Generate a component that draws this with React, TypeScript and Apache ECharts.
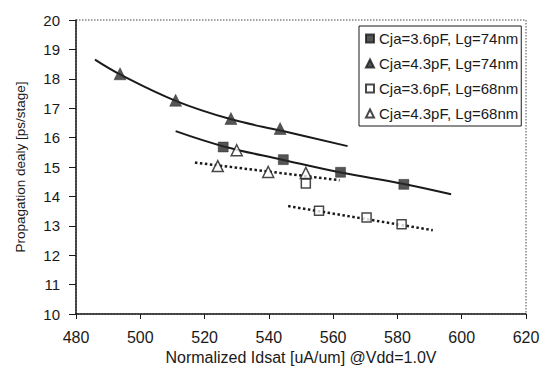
import React, { useEffect, useRef } from "react";
import * as echarts from "echarts";

const xTicks = [480, 500, 520, 540, 560, 580, 600, 620];
const yTicks = [10, 11, 12, 13, 14, 15, 16, 17, 18, 19, 20];

const names = [
  "Cja=3.6pF, Lg=74nm",
  "Cja=4.3pF, Lg=74nm",
  "Cja=3.6pF, Lg=68nm",
  "Cja=4.3pF, Lg=68nm",
];

const sq74: [number, number][] = [
  [525.8, 15.68],
  [544.5, 15.25],
  [562.3, 14.82],
  [582.0, 14.41],
];
const tri74: [number, number][] = [
  [493.7, 18.17],
  [511.0, 17.27],
  [528.2, 16.65],
  [543.5, 16.31],
];
const sq68: [number, number][] = [
  [551.5, 14.44],
  [555.6, 13.51],
  [570.4, 13.28],
  [581.3, 13.05],
];
const tri68: [number, number][] = [
  [524.1, 15.03],
  [530.0, 15.57],
  [539.8, 14.83],
  [551.5, 14.8],
];

// fit lines
const fitTri74: [number, number][] = [
  [485.9, 18.65],
  [494, 18.13],
  [511, 17.25],
  [528, 16.63],
  [544, 16.23],
  [564.5, 15.71],
];
const fitSq74: [number, number][] = [
  [511, 16.22],
  [526, 15.7],
  [544.5, 15.24],
  [562, 14.82],
  [582, 14.42],
  [596.7, 14.07],
];
const fitTri68: [number, number][] = [
  [517, 15.15],
  [562, 14.55],
];
const fitSq68: [number, number][] = [
  [546, 13.67],
  [591, 12.85],
];

const INK = "#1a1a1a";
const FONT = "Liberation Sans, Arial, sans-serif";

export default function App() {
  const ref = useRef<HTMLDivElement>(null);
  useEffect(() => {
    if (!ref.current) return;
    const chart = echarts.init(ref.current, null, { renderer: "svg" });
    const fitLine = (data: [number, number][], dotted: boolean, smooth: boolean) => ({
      type: "line",
      data,
      smooth: smooth ? 0.4 : false,
      showSymbol: false,
      symbol: "none",
      silent: true,
      lineStyle: dotted
        ? { color: INK, width: 2.5, type: [2.5, 2.5] }
        : { color: INK, width: 2 },
      z: 2,
    });
    chart.setOption({
      animation: false,
      backgroundColor: "#fff",
      grid: {
        left: 76,
        top: 20,
        right: 26,
        bottom: 61,
        show: true,
        borderColor: "#444",
        borderWidth: 1,
        borderType: [1.5, 1.5],
      } as any,
      xAxis: {
        type: "value",
        min: 480,
        max: 620,
        interval: 20,
        name: "Normalized Idsat [uA/um] @Vdd=1.0V",
        nameLocation: "middle",
        nameGap: 35,
        nameTextStyle: { color: INK, fontSize: 16, fontFamily: FONT },
        axisLine: { show: true, lineStyle: { color: INK, width: 1.5 } },
        axisTick: { show: true, length: 5, lineStyle: { color: INK } },
        axisLabel: {
          color: INK,
          fontSize: 16,
          fontFamily: FONT,
          margin: 15,
          formatter: (v: number) => (xTicks.includes(v) ? String(v) : ""),
        },
        splitLine: { show: false },
      },
      yAxis: {
        type: "value",
        min: 10,
        max: 20,
        interval: 1,
        name: "Propagation dealy [ps/stage]",
        nameLocation: "middle",
        nameGap: 49,
        nameTextStyle: { color: INK, fontSize: 13.5, fontFamily: FONT },
        axisLine: { show: true, lineStyle: { color: INK, width: 1.5 } },
        axisTick: { show: true, length: 7, lineStyle: { color: INK } },
        axisLabel: {
          color: INK,
          fontSize: 15,
          fontFamily: FONT,
          margin: 16,
          formatter: (v: number) => (yTicks.includes(v) ? String(v) : ""),
        },
        splitLine: { show: false },
      },
      legend: {
        data: [
          { name: names[0], icon: "rect" },
          { name: names[1], icon: "triangle" },
          { name: names[2], icon: "rect" },
          { name: names[3], icon: "triangle" },
        ],
        orient: "vertical",
        left: 359,
        top: 26,
        padding: [5, 3, 5, 6],
        itemGap: 10,
        itemWidth: 8,
        itemHeight: 8,
        backgroundColor: "#fff",
        borderColor: INK,
        borderWidth: 1,
        textStyle: { color: INK, fontSize: 15, fontFamily: FONT },
      },
      series: [
        fitLine(fitTri74, false, true),
        fitLine(fitSq74, false, true),
        fitLine(fitTri68, true, false),
        fitLine(fitSq68, true, false),
        {
          name: names[0],
          type: "scatter",
          data: sq74,
          symbol: "rect",
          symbolSize: 10,
          itemStyle: { color: "#2a2a2a", borderColor: INK, borderWidth: 0.5 },
          z: 5,
        },
        {
          name: names[1],
          type: "scatter",
          data: tri74,
          symbol: "triangle",
          symbolSize: 12,
          itemStyle: { color: "#2a2a2a", borderColor: INK, borderWidth: 0.5 },
          z: 5,
        },
        {
          name: names[2],
          type: "scatter",
          data: sq68,
          symbol: "rect",
          symbolSize: 9,
          itemStyle: { color: "#fff", borderColor: INK, borderWidth: 1.5 },
          z: 5,
        },
        {
          name: names[3],
          type: "scatter",
          data: tri68,
          symbol: "triangle",
          symbolSize: 11,
          itemStyle: { color: "#fff", borderColor: INK, borderWidth: 1.5 },
          z: 6,
        },
      ],
    });
    return () => chart.dispose();
  }, []);
  return (
    <div
      ref={ref}
      style={{ position: "fixed", left: 0, top: 0, width: 552, height: 375, background: "#fff" }}
    />
  );
}
